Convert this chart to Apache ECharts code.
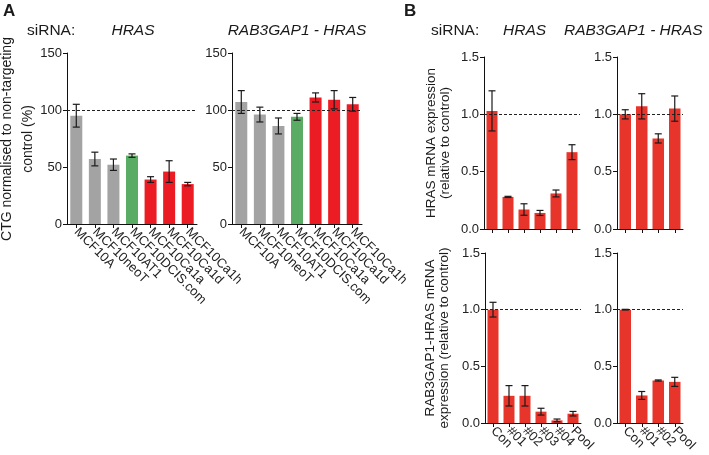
<!DOCTYPE html>
<html>
<head>
<meta charset="utf-8">
<script src="https://cdn.jsdelivr.net/npm/echarts@6/dist/echarts.min.js"></script>
<style>html,body{margin:0;padding:0;background:#fff}#c{width:709px;height:455px}</style>
</head>
<body>
<div id="c"></div>
<script>
// ---- data ----
var cellLines = ['MCF10A','MCF10neoT','MCF10AT1','MCF10DCIS.com','MCF10Ca1a','MCF10Ca1d','MCF10Ca1h'];
var ctgHRAS = [95, 57, 52, 60, 39, 46, 35];
var ctgHRASErr = [10, 6, 5, 1.5, 2.5, 9.5, 1.5];
var ctgRAB = [107, 96, 86, 94, 111, 109, 105];
var ctgRABErr = [10, 6.5, 7, 3, 4, 8, 6];

var siHRAS = ['Con','#01','#02','#03','#04','Pool'];
var siRAB = ['Con','#01','#02','Pool'];
var hrasMrnaSiHRAS = [1.03, 0.28, 0.17, 0.14, 0.31, 0.67];
var hrasMrnaSiHRASErr = [0.175, 0.005, 0.05, 0.022, 0.03, 0.065];
var hrasMrnaSiRAB = [1.0, 1.07, 0.79, 1.05];
var hrasMrnaSiRABErr = [0.04, 0.11, 0.04, 0.11];
var fusMrnaSiHRAS = [1.0, 0.24, 0.24, 0.10, 0.023, 0.082];
var fusMrnaSiHRASErr = [0.065, 0.09, 0.09, 0.03, 0.012, 0.02];
var fusMrnaSiRAB = [1.0, 0.243, 0.375, 0.363];
var fusMrnaSiRABErr = [0.003, 0.035, 0.005, 0.04];

var yTicksA = [0, 50, 100, 150];
var yTicksB = [0, 0.5, 1.0, 1.5];

// ---- style ----
var FONT = 'Liberation Sans, Arial, sans-serif';
var GRAY = '#a3a3a3', GREEN = '#5aab64', REDA = '#ec1c24', REDB = '#e8352b';
var colorsA = [GRAY, GRAY, GRAY, GREEN, REDA, REDA, REDA];

var chart = echarts.init(document.getElementById('c'), null, {renderer: 'canvas'});

var grids = [
  {left: 67, top: 53, width: 130, height: 171},
  {left: 232, top: 53, width: 130, height: 171},
  {left: 484, top: 57, width: 96, height: 172},
  {left: 617, top: 57, width: 66, height: 172},
  {left: 485, top: 253, width: 96, height: 170},
  {left: 617, top: 253, width: 66, height: 170}
];

function xAx(i, cats, showLabels) {
  return {
    type: 'category', gridIndex: i, data: cats,
    axisLine: {lineStyle: {color: '#111', width: 1}},
    axisTick: {show: true, alignWithLabel: true, length: 4, lineStyle: {color: '#111'}},
    axisLabel: {show: showLabels, rotate: -45, interval: 0, fontSize: 13, color: '#222', fontFamily: FONT, margin: 6}
  };
}
function yAx(i, max, interval, dec) {
  return {
    type: 'value', gridIndex: i, min: 0, max: max, interval: interval,
    splitLine: {show: false},
    axisLine: {show: true, lineStyle: {color: '#111', width: 1}},
    axisTick: {show: true, length: 4, lineStyle: {color: '#111'}},
    axisLabel: {fontSize: 13, color: '#222', fontFamily: FONT, margin: 5,
      formatter: function (v) { return dec ? v.toFixed(1) : String(v); }}
  };
}

function barSeries(i, vals, colors, width, refVal) {
  return {
    type: 'bar', xAxisIndex: i, yAxisIndex: i, barWidth: width,
    data: vals.map(function (v, k) { return {value: v, itemStyle: {color: colors[k]}}; }),
    markLine: {silent: true, symbol: 'none', label: {show: false},
      lineStyle: {type: [3, 2], color: '#222', width: 1},
      data: [{yAxis: refVal}]},
    z: 2
  };
}
function errSeries(i, vals, errs, cap) {
  return {
    type: 'custom', xAxisIndex: i, yAxisIndex: i, z: 5,
    data: vals.map(function (v, k) { return [k, v, errs[k]]; }),
    renderItem: function (params, api) {
      var x = api.value(0), v = api.value(1), e = api.value(2);
      var hi = api.coord([x, v + e]), lo = api.coord([x, v - e]);
      var st = {stroke: '#1a1a1a', lineWidth: 1.2};
      return {type: 'group', children: [
        {type: 'line', shape: {x1: hi[0], y1: hi[1], x2: lo[0], y2: lo[1]}, style: st},
        {type: 'line', shape: {x1: hi[0] - cap, y1: hi[1], x2: hi[0] + cap, y2: hi[1]}, style: st},
        {type: 'line', shape: {x1: lo[0] - cap, y1: lo[1], x2: lo[0] + cap, y2: lo[1]}, style: st}
      ]};
    }
  };
}
function fill(n, c) { var a = []; for (var k = 0; k < n; k++) a.push(c); return a; }

function txt(x, y, s, size, opts) {
  opts = opts || {};
  return {
    type: 'text', x: x, y: y, rotation: opts.rot || 0, silent: true,
    style: {text: s, fontSize: size, fontFamily: FONT, fill: '#1a1a1a',
      fontStyle: opts.italic ? 'italic' : 'normal', fontWeight: opts.bold ? 'bold' : 'normal',
      textAlign: opts.align || 'left', textVerticalAlign: 'middle', lineHeight: opts.lh || size * 1.2}
  };
}

var option = {
  animation: false,
  grid: grids,
  xAxis: [xAx(0, cellLines, true), xAx(1, cellLines, true), xAx(2, siHRAS, false), xAx(3, siRAB, false), xAx(4, siHRAS, true), xAx(5, siRAB, true)],
  yAxis: [yAx(0, 150, 50, false), yAx(1, 150, 50, false), yAx(2, 1.5, 0.5, true), yAx(3, 1.5, 0.5, true), yAx(4, 1.5, 0.5, true), yAx(5, 1.5, 0.5, true)],
  series: [
    barSeries(0, ctgHRAS, colorsA, 12, 100), errSeries(0, ctgHRAS, ctgHRASErr, 3.5),
    barSeries(1, ctgRAB, colorsA, 12, 100), errSeries(1, ctgRAB, ctgRABErr, 3.5),
    barSeries(2, hrasMrnaSiHRAS, fill(6, REDB), 11, 1), errSeries(2, hrasMrnaSiHRAS, hrasMrnaSiHRASErr, 3.5),
    barSeries(3, hrasMrnaSiRAB, fill(4, REDB), 11.5, 1), errSeries(3, hrasMrnaSiRAB, hrasMrnaSiRABErr, 3.5),
    barSeries(4, fusMrnaSiHRAS, fill(6, REDB), 11, 1), errSeries(4, fusMrnaSiHRAS, fusMrnaSiHRASErr, 3.5),
    barSeries(5, fusMrnaSiRAB, fill(4, REDB), 11.5, 1), errSeries(5, fusMrnaSiRAB, fusMrnaSiRABErr, 3.5)
  ],
  graphic: [
    txt(3, 11, 'A', 17, {bold: true}),
    txt(27, 31, 'siRNA:', 15.5),
    txt(133, 31, 'HRAS', 15.5, {italic: true, align: 'center'}),
    txt(297, 31, 'RAB3GAP1 - HRAS', 15.5, {italic: true, align: 'center'}),
    txt(18, 139, 'CTG normalised to non-targeting\ncontrol (%)', 14, {rot: Math.PI / 2, align: 'center', lh: 21}),
    txt(404, 11, 'B', 17, {bold: true}),
    txt(431, 31, 'siRNA:', 15.5),
    txt(503, 31, 'HRAS', 15.5, {italic: true}),
    txt(564, 31, 'RAB3GAP1 - HRAS', 15.5, {italic: true}),
    txt(438, 143, 'HRAS mRNA expression\n(relative to control)', 13.5, {rot: Math.PI / 2, align: 'center', lh: 14}),
    txt(437, 338, 'RAB3GAP1-HRAS mRNA\nexpression (relative to control)', 13.5, {rot: Math.PI / 2, align: 'center', lh: 14})
  ]
};
chart.setOption(option);
</script>
</body>
</html>
